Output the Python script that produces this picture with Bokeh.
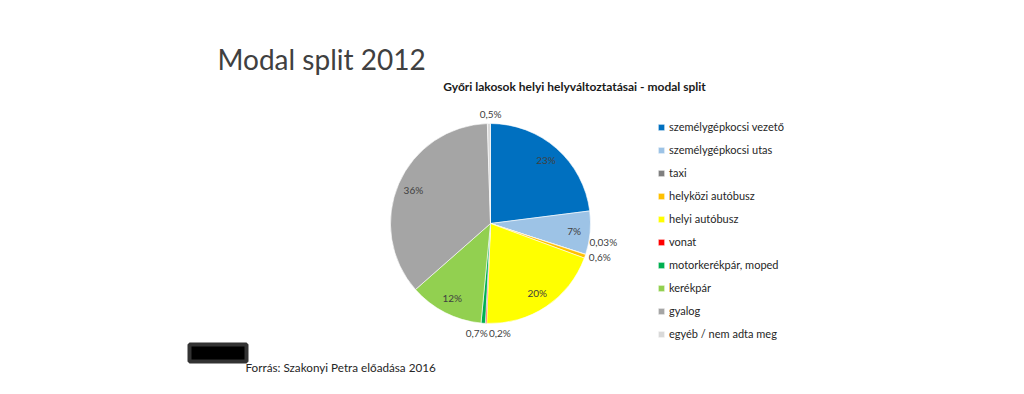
import numpy as np
from bokeh.plotting import figure
from bokeh.models import Range1d, ColumnDataSource, Legend, LegendItem, BoxAnnotation
from bokeh.core.properties import value
from bokeh.embed import file_html
from bokeh.resources import INLINE

# ---- data ----
categories = ["személygépkocsi vezető", "személygépkocsi utas", "taxi", "helyközi autóbusz",
              "helyi autóbusz", "vonat", "motorkerékpár, moped", "kerékpár", "gyalog",
              "egyéb / nem adta meg"]
shares = [23, 7, 0.03, 0.6, 20, 0.2, 0.7, 12, 36, 0.5]
share_labels = ["23%", "7%", "0,03%", "0,6%", "20%", "0,2%", "0,7%", "12%", "36%", "0,5%"]
colors = ["#0070C0", "#9DC3E6", "#7F7F7F", "#FFC000", "#FFFF00", "#FF0000", "#00B050",
          "#92D050", "#A5A5A5", "#D9D9D9"]

title_text = "Modal split 2012"
subtitle_text = "Győri lakosok helyi helyváltoztatásai - modal split"
source_text = "Forrás: Szakonyi Petra előadása 2016"

# ---- layout ----
W, H = 1008, 378
FONT = "Lato"

def X(px):
    return px

def Y(py):
    return H - py

CX, CY, R = X(490), Y(223), 100.0
outside_r = 1.10
inside_r = 0.84
nudge_deg = {2: -8.5, 3: -2.0, 5: -7.5, 6: 3.0, 9: 1.0}
outside_scale = {2: 1.04, 3: 1.04}

vals = np.array(shares, dtype=float)
frac = vals / vals.sum()
c1 = np.cumsum(frac)
c0 = c1 - frac
start = np.pi / 2 - 2 * np.pi * c1
end = np.pi / 2 - 2 * np.pi * c0

mid = (c0 + c1) / 2
lx, ly = [], []
for i, m in enumerate(mid):
    a = 2 * np.pi * m + np.radians(nudge_deg.get(i, 0.0))
    r = (inside_r if shares[i] >= 5 else outside_r * outside_scale.get(i, 1.0)) * R
    lx.append(CX + r * np.sin(a))
    ly.append(CY + r * np.cos(a))

src = ColumnDataSource(dict(cat=categories, start=start, end=end, color=colors))
lsrc = ColumnDataSource(dict(x=lx, y=ly, text=share_labels))

p = figure(width=W, height=H, output_backend="svg", toolbar_location=None,
           x_range=Range1d(0, W), y_range=Range1d(0, H), min_border=0)
p.axis.visible = False
p.grid.visible = False
p.outline_line_color = None
p.background_fill_color = "white"
p.border_fill_color = "white"

wr = p.wedge(x=CX, y=CY, radius=R, start_angle="start", end_angle="end", direction="anticlock",
             fill_color="color", line_color="white", line_width=0.6, source=src)

p.text(x="x", y="y", text="text", source=lsrc, text_align="center", text_baseline="middle",
       text_font=value(FONT), text_font_size="10px", text_color="#404040")

# titles
p.text(x=[X(217)], y=[Y(58)], text=[title_text], text_font=value(FONT), text_font_size="28px",
       text_color="#404040", text_baseline="middle", text_align="left")
p.text(x=[X(574)], y=[Y(86)], text=[subtitle_text], text_font=value(FONT), text_font_size="12px",
       text_font_style="bold", text_color="#1a1a1a", text_baseline="middle", text_align="center")
p.text(x=[X(245)], y=[Y(366)], text=[source_text], text_font=value(FONT), text_font_size="11.7px",
       text_color="#262626", text_baseline="middle", text_align="left")

# redaction box
p.add_layout(BoxAnnotation(left=X(189), right=X(246), bottom=Y(361), top=Y(344),
                           fill_color="#000000", fill_alpha=1.0, line_color="#333333",
                           line_width=4, line_alpha=1.0))

items = [LegendItem(label=c, renderers=[wr], index=i) for i, c in enumerate(categories)]
legend = Legend(items=items, location=(X(657), 38), orientation="vertical",
                glyph_width=8, glyph_height=8, label_height=8, spacing=10, padding=0, margin=0,
                label_standoff=4, label_text_font=FONT, label_text_font_size="11px",
                label_text_color="#262626", border_line_color=None, background_fill_alpha=0)
p.add_layout(legend)

open("out.html", "w").write(file_html(p, INLINE))
